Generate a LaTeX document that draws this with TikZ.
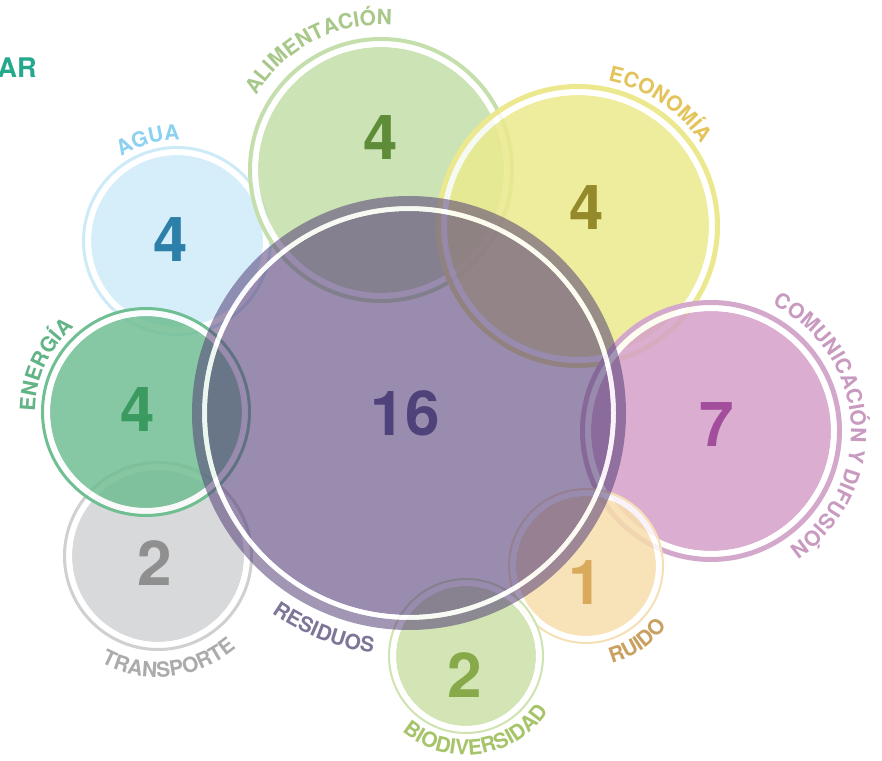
\documentclass[tikz,border=0pt]{standalone}
\usepackage{fontspec}
\setmainfont{TeX Gyre Heros}
\newfontfamily\lblfont{TeX Gyre Heros}
\usetikzlibrary{calc,decorations.text}

\definecolor{alimfill}{HTML}{C3DEA8}
\definecolor{alimring}{HTML}{C5DFAC}
\definecolor{alimnum}{HTML}{5E8C38}
\definecolor{alimlbl}{HTML}{A8C88A}
\definecolor{econfill}{HTML}{EBEA8D}
\definecolor{econring}{HTML}{EBE88E}
\definecolor{econnum}{HTML}{948A2C}
\definecolor{econlbl}{HTML}{E3C45A}
\definecolor{aguafill}{HTML}{CEEBF8}
\definecolor{aguaring}{HTML}{CDEAF7}
\definecolor{aguanum}{HTML}{2C7FA8}
\definecolor{agualbl}{HTML}{8CD2F0}
\definecolor{enerfill}{HTML}{71BE93}
\definecolor{enerring}{HTML}{6FBF92}
\definecolor{enernum}{HTML}{3A9A60}
\definecolor{enerlbl}{HTML}{62B487}
\definecolor{tranfill}{HTML}{D1D2D5}
\definecolor{tranring}{HTML}{D0D0D0}
\definecolor{trannum}{HTML}{8F8F8F}
\definecolor{tranlbl}{HTML}{ABABAB}
\definecolor{comufill}{HTML}{D5A0C9}
\definecolor{comuring}{HTML}{D3A8CB}
\definecolor{comunum}{HTML}{A24E9C}
\definecolor{comulbl}{HTML}{C89AC0}
\definecolor{ruidfill}{HTML}{F7DEAC}
\definecolor{ruidring}{HTML}{F5E0B5}
\definecolor{ruidnum}{HTML}{D9AA5C}
\definecolor{ruidlbl}{HTML}{C9A060}
\definecolor{biodfill}{HTML}{CBE1A8}
\definecolor{biodring}{HTML}{CFE3B0}
\definecolor{biodnum}{HTML}{87A94A}
\definecolor{biodlbl}{HTML}{A6C46A}
\definecolor{resibase}{HTML}{553F78}
\definecolor{resinum}{HTML}{4F417A}
\definecolor{resilbl}{HTML}{7E7599}
\definecolor{titlecol}{HTML}{26A88C}

% bubble: name, centre, inner radius, white gap, ring width, fill style, ring style
\def\bubble(#1)(#2)(#3:#4:#5)#6#7{%
  \coordinate (#1) at (#2);
  \fill[#6] (#1) circle (#3);
  \draw[white, draw opacity=0.85, line width=#4pt] (#1) circle ({#3+#4/2});
  \draw[#7, line width=#5pt] (#1) circle ({#3+#4+#5/2});}
% clockwise label (text outside, read over the top)
\def\cwlabel[#1](#2)(#3:#4)#5{\path[decorate,decoration={text along path,text align=center,
  text={|\lblfont\bfseries\fontsize{21}{21}\selectfont\color{#1}|#5}}]
  ($(#2)+({#4*cos(#3+75)},{#4*sin(#3+75)})$) arc (#3+75:#3-75:#4);}
% counter clockwise label (text outside, read under the bottom)
\def\ccwlabel[#1](#2)(#3:#4)#5{\path[decorate,decoration={text along path,text align=center,
  text={|\lblfont\bfseries\fontsize{21}{21}\selectfont\color{#1}|#5}}]
  ($(#2)+({#4*cos(#3-55)},{#4*sin(#3-55)})$) arc (#3-55:#3+55:#4);}

\tikzset{
  num/.style={font=\bfseries\fontsize{62}{62}\selectfont}
}

\begin{document}
\begin{tikzpicture}[x=1pt,y=1pt]
			%%%%% START %%%%%
			\useasboundingbox (0,0) rectangle (882,760);
			
			\node[anchor=base west, text=titlecol, font=\bfseries\fontsize{27}{27}\selectfont] (title) at (-6,682) {AR};
			
			\bubble(agua)(177,519)(86:6:3){aguafill, fill opacity=0.85}{aguaring}
			\bubble(tran)(158,204)(86:6:3){tranfill, fill opacity=0.85}{tranring}
			\bubble(ener)(146,348)(96:6:3){enerfill, fill opacity=0.85}{enerring}
			\bubble(alim)(381,590)(123:6:4){alimfill, fill opacity=0.85}{alimring}
			\bubble(econ)(578,534)(131:6:5){econfill, fill opacity=0.85}{econring}
			\bubble(comu)(711,329)(120:6:5){comufill, fill opacity=0.85}{comuring}
			\bubble(ruid)(586,194)(70:6:2){ruidfill, fill opacity=0.85}{ruidring}
			\bubble(biod)(466,104)(70:6:2){biodfill, fill opacity=0.85}{biodring}
			\bubble(resi)(409,347)(202:5:10){resibase, fill opacity=0.6}{resibase, draw opacity=0.55}
			
			\node[num, text=aguanum] (n-agua) at (171,520) {4};
			\node[num, text=trannum] (n-tran) at (155,197) {2};
			\node[num, text=enernum] (n-ener) at (138,350) {4};
			\node[num, text=alimnum] (n-alim) at (381,622) {4};
			\node[num, text=econnum] (n-econ) at (587,552) {4};
			\node[num, text=comunum] (n-comu) at (717,335) {7};
			\node[num, text=ruidnum] (n-ruid) at (586,177) {1};
			\node[num, text=biodnum] (n-biod) at (465,85) {2};
			\node[num, text=resinum] (n-resi) at (405,347) {16};
			
			\cwlabel[alimlbl](alim)(117.5:145){ALIMENTACIÓN}
			\cwlabel[econlbl](econ)(56:148){ECONOMÍA}
			\cwlabel[agualbl](agua)(106:101){AGUA}
			\cwlabel[enerlbl](ener)(155:111){ENERGÍA}
			\cwlabel[comulbl](comu)(4:140){COMUNICACIÓN Y DIFUSIÓN}
			\ccwlabel[tranlbl](tran)(-84:121){TRANSPORTE}
			\ccwlabel[resilbl](resi)(-111.5:243){RESIDUOS}
			\ccwlabel[biodlbl](biod)(-82:99){BIODIVERSIDAD}
			\ccwlabel[ruidlbl](ruid)(-56:101){RUIDO}
			
			%%%%% END %%%%%
\end{tikzpicture}
\end{document}
